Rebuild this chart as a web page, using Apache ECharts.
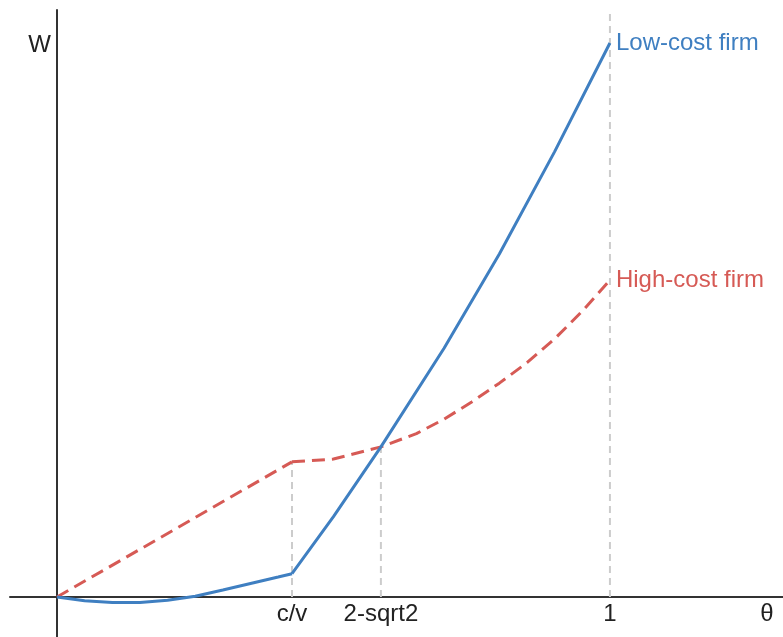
<!DOCTYPE html>
<html>
<head>
<meta charset="utf-8">
<script src="https://cdn.jsdelivr.net/npm/echarts@6/dist/echarts.min.js"></script>
<style>
  html, body { margin: 0; padding: 0; background: #ffffff; }
  #chart { width: 783px; height: 637px; }
</style>
</head>
<body>
<div id="chart"></div>
<script>
// Threshold values on the θ axis
const CV = 0.425;
const X_CROSS = 2 - Math.SQRT2;

// Low-cost firm welfare: below c/v (shallow dip) and above c/v (steep rise)
const lowCostLowX = [0, 0.05, 0.1, 0.15, 0.2, 0.25, 0.3, 0.35, 0.4, CV];
const lowCostLowY = [0, -0.0068, -0.0100, -0.0098, -0.0058, 0.0015, 0.0125, 0.0245, 0.036, 0.042];
const lowCostHighX = [CV, 0.5, X_CROSS, 0.7, 0.8, 0.9, 1];
const lowCostHighY = [0.042, 0.145, 0.271, 0.449, 0.619, 0.804, 1.0];

// High-cost firm welfare: linear up to c/v, convex afterwards
const highCostLowX = [0, 0.2, CV];
const highCostLowY = [0, 0.1147, 0.244];
const highCostHighX = [CV, 0.5, X_CROSS, 0.65, 0.7, 0.75, 0.8, 0.85, 0.9, 0.95, 1];
const highCostHighY = [0.244, 0.249, 0.271, 0.295, 0.321, 0.352, 0.386, 0.423, 0.466, 0.516, 0.572];

// Vertical reference guides
const guideX = [CV, X_CROSS, 1];
const guideTop = [0.244, 0.271, 1.06];

// Tick labels on the θ axis
const tickValues = [CV, X_CROSS, 1];
const tickLabels = ['c/v', '2-sqrt2', '1'];

const BLUE = '#3f7fc1';
const RED = '#d65a55';
const FONT = 'Liberation Sans';
const FS = 24;

const zip = (xs, ys) => xs.map((x, i) => [x, ys[i]]);

const guideSeries = guideX.map((x, i) => ({
  type: 'line',
  data: [[x, 0], [x, guideTop[i]]],
  symbol: 'none',
  silent: true,
  z: 1,
  lineStyle: { color: '#cccccc', width: 2, type: [7, 5] }
}));

const chart = echarts.init(document.getElementById('chart'), null, { renderer: 'canvas' });
chart.setOption({
  animation: false,
  backgroundColor: '#ffffff',
  grid: { left: 10, right: 0, top: 10, bottom: 0, containLabel: false, outerBoundsMode: 'none' },
  xAxis: {
    type: 'value',
    min: -0.085,
    max: 1.313,
    name: 'θ',
    nameLocation: 'end',
    nameGap: -16,
    nameTextStyle: {
      fontFamily: FONT, fontSize: FS, color: '#222',
      align: 'center', verticalAlign: 'top', padding: [5, 0, 0, 0]
    },
    axisLine: { onZero: true, lineStyle: { color: '#333', width: 2 } },
    axisTick: { show: false },
    splitLine: { show: false },
    axisLabel: { show: false }
  },
  yAxis: {
    type: 'value',
    min: -0.0722,
    max: 1.0596,
    name: 'W',
    nameLocation: 'end',
    nameGap: -35,
    nameTextStyle: {
      fontFamily: FONT, fontSize: FS, color: '#222',
      align: 'right', verticalAlign: 'middle', padding: [0, 6, 0, 0]
    },
    axisLine: { onZero: true, lineStyle: { color: '#333', width: 2 } },
    axisTick: { show: false },
    axisLabel: { show: false },
    splitLine: { show: false }
  },
  series: [
    ...guideSeries,
    {
      // θ-axis tick labels sitting just under the zero line
      type: 'scatter',
      data: tickValues.map((v) => [v, 0]),
      symbolSize: 0,
      silent: true,
      z: 2,
      itemStyle: { opacity: 1, color: '#222' },
      label: {
        show: true,
        position: 'bottom',
        distance: 5,
        fontFamily: FONT,
        fontSize: FS,
        color: '#222',
        formatter: (p) => tickLabels[p.dataIndex]
      }
    },
    {
      type: 'line',
      name: 'High-cost firm',
      data: zip(highCostLowX, highCostLowY),
      symbol: 'none',
      z: 3,
      lineStyle: { color: RED, width: 3, type: [13, 7] }
    },
    {
      type: 'line',
      name: 'High-cost firm',
      data: zip(highCostHighX, highCostHighY),
      symbol: 'none',
      z: 3,
      lineStyle: { color: RED, width: 3, type: [13, 7] },
      endLabel: {
        show: true,
        formatter: 'High-cost firm',
        color: RED,
        fontFamily: FONT,
        fontSize: FS,
        distance: 6
      }
    },
    {
      type: 'line',
      name: 'Low-cost firm',
      data: zip(lowCostLowX, lowCostLowY),
      symbol: 'none',
      z: 4,
      lineStyle: { color: BLUE, width: 3 }
    },
    {
      type: 'line',
      name: 'Low-cost firm',
      data: zip(lowCostHighX, lowCostHighY),
      symbol: 'none',
      z: 4,
      lineStyle: { color: BLUE, width: 3 },
      endLabel: {
        show: true,
        formatter: 'Low-cost firm',
        color: BLUE,
        fontFamily: FONT,
        fontSize: FS,
        distance: 6
      }
    }
  ]
});
</script>
</body>
</html>
